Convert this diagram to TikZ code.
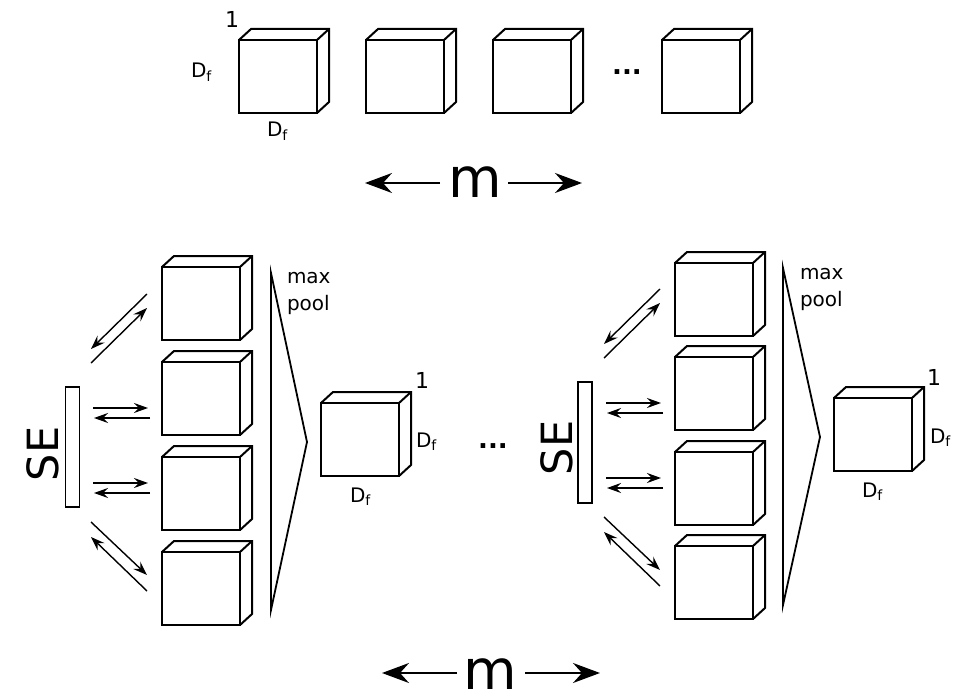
\documentclass[tikz,border=0pt]{standalone}
\usepackage{fontspec}
\setmainfont{DejaVu Sans}
\usetikzlibrary{arrows.meta}
\tikzset{
  face/.style={draw, line width=2pt, minimum width=78pt, minimum height=73pt, inner sep=0pt, outer sep=0pt},
  edgethree/.style={line width=2pt, line join=miter},
  lbl/.style={font=\fontsize{20}{27}\selectfont, inner sep=0pt, outer sep=0pt},
  onelbl/.style={font=\fontsize{22}{26}\selectfont, inner sep=0pt, outer sep=0pt},
  dotslbl/.style={font=\bfseries\fontsize{26}{30}\selectfont, inner sep=0pt, outer sep=0pt},
  sebar/.style={draw, line width=1.7pt, minimum width=14pt, minimum height=120pt, inner sep=0pt, outer sep=0pt},
  pairarrow/.style={line width=1.4pt, -{Stealth[length=14pt,width=10pt,inset=5pt]}},
  bigarrow/.style={line width=2pt, -{Stealth[length=27pt,width=20pt,inset=9pt]}},
  mlabel/.style={font=\fontsize{55}{60}\selectfont, inner sep=0pt, outer sep=0pt},
  selabel/.style={font=\fontsize{43}{48}\selectfont, inner sep=0pt, outer sep=0pt, rotate=90},
  poolline/.style={line width=1.8pt, line join=miter},
}
\newcommand\mycube[3]{%
  \node[face, anchor=north west] (#1) at (#2,#3) {};
  \draw[edgethree] (#1.north west) -- ++(12,-11) -- ([shift={(12,-11)}]#1.north east)
     -- ([shift={(12,-11)}]#1.south east) -- (#1.south east);
  \draw[edgethree] (#1.north east) -- ++(12,-11);
}
\newcommand\pairgroup[2]{%
  \begin{scope}[shift={#2}]
    \coordinate (#1aS) at (147,294); \coordinate (#1aE) at (91,349);
    \coordinate (#1bS) at (91,363);  \coordinate (#1bE) at (147,308);
    \coordinate (#1cS) at (93,408);  \coordinate (#1cE) at (148,408);
    \coordinate (#1dS) at (150,418); \coordinate (#1dE) at (94,418);
    \coordinate (#1eS) at (93,483);  \coordinate (#1eE) at (148,483);
    \coordinate (#1fS) at (150,493); \coordinate (#1fE) at (94,493);
    \coordinate (#1gS) at (91,522);  \coordinate (#1gE) at (147,575);
    \coordinate (#1hS) at (147,591); \coordinate (#1hE) at (91,537);
  \end{scope}
  \foreach \k in {a,b,c,d,e,f,g,h}{\draw[pairarrow] (#1\k S) -- (#1\k E);}
}
\begin{document}
\begin{tikzpicture}[x=1pt,y=-1pt]
\useasboundingbox (0,0) rectangle (954,698);

% ---------- top row ----------
\mycube{t1}{239}{40}
\mycube{t2}{366}{40}
\mycube{t3}{493}{40}
\mycube{t4}{662}{40}
\node[onelbl, anchor=base] (t1one) at (232,28) {1};
\node[lbl, anchor=base west] (t1dl) at (191,78) {D\textsubscript{f}};
\node[lbl, anchor=base west] (t1db) at (267,137) {D\textsubscript{f}};
\node[dotslbl, anchor=base] (tdots) at (627,75) {...};

\node[mlabel, anchor=base] (mtop) at (475,197) {m};
\coordinate (mtopLs) at (440,183); \coordinate (mtopLe) at (365,183);
\coordinate (mtopRs) at (508,183); \coordinate (mtopRe) at (582,183);
\draw[bigarrow] (mtopLs) -- (mtopLe);
\draw[bigarrow] (mtopRs) -- (mtopRe);

% ---------- left group ----------
\mycube{l1}{162}{267}
\mycube{l2}{162}{362}
\mycube{l3}{162}{457}
\mycube{l4}{162}{552}
\node[sebar] (lse) at (72.5,447) {};
\node[selabel, anchor=base] (lsetext) at (58,454) {SE};
\pairgroup{L}{(0,0)}
\draw[poolline] (271,273) -- (307,442) -- (271,610) -- cycle;
\node[lbl, align=left, anchor=north west] (lpool) at (287,272) {max\\pool};
\mycube{lo}{321}{403}
\node[onelbl, anchor=base] (loone) at (422,388) {1};
\node[lbl, anchor=base west] (lodr) at (416,447) {D\textsubscript{f}};
\node[lbl, anchor=base west] (lodb) at (350,502) {D\textsubscript{f}};
\node[dotslbl, anchor=base] (mdots) at (493,448) {...};

% ---------- right group ----------
\mycube{r1}{675}{263}
\mycube{r2}{675}{357}
\mycube{r3}{675}{452}
\mycube{r4}{675}{546}
\node[sebar, minimum height=121pt] (rse) at (585,442.5) {};
\node[selabel, anchor=base] (rsetext) at (572,448) {SE};
\pairgroup{R}{(513,-5)}
\draw[poolline] (783,268) -- (820,437) -- (783,605) -- cycle;
\node[lbl, align=left, anchor=north west] (rpool) at (800,268) {max\\pool};
\mycube{ro}{834}{398}
\node[onelbl, anchor=base] (roone) at (934,385) {1};
\node[lbl, anchor=base west] (rodr) at (930,443) {D\textsubscript{f}};
\node[lbl, anchor=base west] (rodb) at (862,497) {D\textsubscript{f}};

\node[mlabel, anchor=base] (mbot) at (490,689) {m};
\coordinate (mbotLs) at (457,673); \coordinate (mbotLe) at (382,673);
\coordinate (mbotRs) at (525,673); \coordinate (mbotRe) at (600,673);
\draw[bigarrow] (mbotLs) -- (mbotLe);
\draw[bigarrow] (mbotRs) -- (mbotRe);
\end{tikzpicture}
\end{document}
